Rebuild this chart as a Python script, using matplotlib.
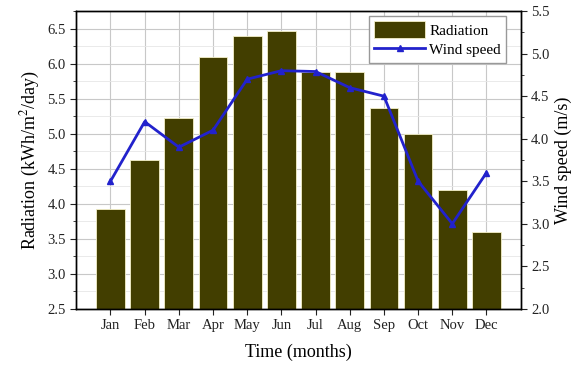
import numpy as np
import matplotlib.pyplot as plt
from matplotlib.ticker import MultipleLocator

# ── Data ──────────────────────────────────────────────────────────────────────
months    = ['Jan', 'Feb', 'Mar', 'Apr', 'May', 'Jun',
             'Jul', 'Aug', 'Sep', 'Oct', 'Nov', 'Dec']
radiation = [3.92, 4.62, 5.22, 6.10, 6.40, 6.46,
             5.88, 5.88, 5.37, 5.00, 4.19, 3.60]
wind      = [3.50, 4.20, 3.90, 4.10, 4.70, 4.80,
             4.79, 4.60, 4.50, 3.50, 3.00, 3.60]

plt.rcParams['font.family'] = ['Liberation Serif', 'DejaVu Serif']
plt.rcParams['mathtext.fontset'] = 'stix'

x = np.arange(1, len(months) + 1)

# ── Figure ────────────────────────────────────────────────────────────────────
fig, ax = plt.subplots(figsize=(5.87, 3.72), dpi=100)
fig.subplots_adjust(left=0.13, right=0.887, top=0.97, bottom=0.17)

ax.set_axisbelow(True)
ax.grid(True, which='major', color='#c8c8c8', lw=0.8)
ax.grid(True, which='minor', axis='y', color='#e6e6e6', lw=0.6)

bars = ax.bar(x, radiation, width=0.84, color='#423e00',
              edgecolor='#f4f0c8', lw=0.6, label='Radiation')

ax.set_xlim(0, 13)
ax.set_ylim(2.5, 6.75)
ax.set_xticks(x)
ax.set_xticklabels(months)
ax.yaxis.set_major_locator(MultipleLocator(0.5))
ax.yaxis.set_minor_locator(MultipleLocator(0.25))
ax.yaxis.set_major_formatter(plt.FormatStrFormatter('%.1f'))
ax.tick_params(axis='both', which='both', direction='out', labelsize=10.5,
               colors='#222222')
ax.tick_params(which='major', length=4)
ax.tick_params(which='minor', length=2.5)
ax.set_xlabel('Time (months)', fontsize=13, labelpad=8)
ax.set_ylabel('Radiation (kWh/m$^2$/day)', fontsize=13)

ax2 = ax.twinx()
line, = ax2.plot(x, wind, color='#2222cc', lw=2, marker='^',
                 markersize=4, label='Wind speed')
ax2.set_ylim(2.0, 5.5)
ax2.yaxis.set_major_locator(MultipleLocator(0.5))
ax2.yaxis.set_minor_locator(MultipleLocator(0.25))
ax2.yaxis.set_major_formatter(plt.FormatStrFormatter('%.1f'))
ax2.tick_params(axis='y', which='both', direction='out', labelsize=10.5,
                colors='#222222')
ax2.tick_params(which='major', length=4)
ax2.tick_params(which='minor', length=2.5)
ax2.set_ylabel('Wind speed (m/s)', fontsize=13)

for a in (ax, ax2):
    for s in a.spines.values():
        s.set_linewidth(1.0)

ax2.legend([bars, line], ['Radiation', 'Wind speed'], loc='upper right',
           bbox_to_anchor=(0.985, 1.01), fontsize=11, fancybox=False,
           edgecolor='#999999', framealpha=1, borderpad=0.35,
           handlelength=3.3, handleheight=1.3, labelspacing=0.2,
           handletextpad=0.3)

plt.savefig('out.png', dpi=100)
plt.close()
